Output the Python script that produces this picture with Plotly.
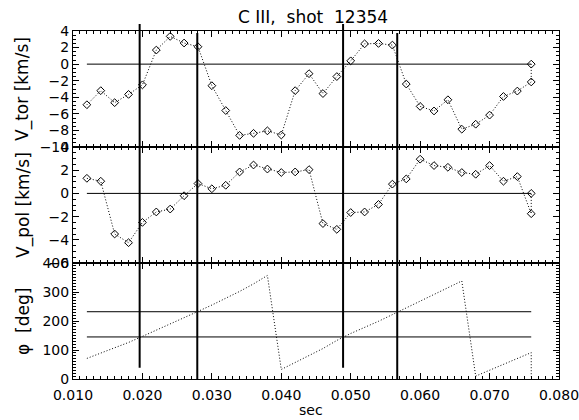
import plotly.graph_objects as go
from plotly.subplots import make_subplots

# time grid (s); the last sample is repeated at 0.076
t = [0.012, 0.014, 0.016, 0.018, 0.020, 0.022, 0.024, 0.026, 0.028, 0.030,
     0.032, 0.034, 0.036, 0.038, 0.040, 0.042, 0.044, 0.046, 0.048, 0.050,
     0.052, 0.054, 0.056, 0.058, 0.060, 0.062, 0.064, 0.066, 0.068, 0.070,
     0.072, 0.074, 0.076, 0.076]

v_tor = [-4.9, -3.2, -4.65, -3.65, -2.5, 1.7, 3.35, 2.55, 2.1, -2.6,
         -5.6, -8.6, -8.35, -8.05, -8.55, -3.2, -1.15, -3.55, -1.5, 0.4,
         2.45, 2.5, 2.3, -2.4, -5.1, -5.65, -4.3, -7.85, -7.25, -6.15,
         -3.9, -3.25, -2.15, 0.0]

v_pol = [1.3, 1.05, -3.5, -4.25, -2.5, -1.6, -1.35, -0.2, 0.85, 0.4,
         0.7, 1.85, 2.45, 2.1, 1.8, 1.85, 2.05, -2.6, -3.1, -1.65,
         -1.6, -0.95, 0.8, 1.25, 2.95, 2.4, 2.25, 1.8, 1.65, 2.4,
         1.05, 1.45, -1.75, 0.0]

phi = [71, 89, 107, 126, 147, 168, 189, 210, 233, 255,
       278, 302, 328, 357, 33, 58, 81, 105, 133, 157,
       177, 199, 222, 245, 268, 291, 314, 338, 10, 30,
       50, 70, 91, 8]

phi_levels = [145, 232]
t_span = [0.012, 0.076]

x_ticks = [0.010, 0.020, 0.030, 0.040, 0.050, 0.060, 0.070, 0.080]
x_labels = ["0.010", "0.020", "0.030", "0.040", "0.050", "0.060", "0.070", "0.080"]

# event times (vertical markers) and their extents in paper units
events = [0.0196, 0.0279, 0.0489, 0.0567]
ev_bottom = [0.032, 0.0, 0.032, 0.0]
ev_top = [1.02, 0.994, 1.02, 0.994]

font = "DejaVu Sans"

fig = make_subplots(rows=3, cols=1, shared_xaxes=True, vertical_spacing=0)

dotted = dict(color="black", width=1, dash="1px,2px")
diam = dict(symbol="diamond-open", size=6, color="black", line=dict(width=1, color="black"))

fig.add_trace(go.Scatter(x=t, y=v_tor, mode="lines+markers", line=dotted, marker=diam), row=1, col=1)
fig.add_trace(go.Scatter(x=t, y=v_pol, mode="lines+markers", line=dotted, marker=diam), row=2, col=1)
fig.add_trace(go.Scatter(x=t, y=phi, mode="lines", line=dotted), row=3, col=1)

# reference lines
solid = dict(color="black", width=1)
fig.add_trace(go.Scatter(x=t_span, y=[0, 0], mode="lines", line=solid), row=1, col=1)
fig.add_trace(go.Scatter(x=t_span, y=[0, 0], mode="lines", line=solid), row=2, col=1)
for lv in phi_levels:
    fig.add_trace(go.Scatter(x=t_span, y=[lv, lv], mode="lines", line=solid), row=3, col=1)

for e, b, tp in zip(events, ev_bottom, ev_top):
    fig.add_shape(type="line", xref="x", yref="paper", x0=e, x1=e, y0=b, y1=tp,
                  line=dict(color="black", width=2))

xax = dict(range=[0.010, 0.080], tickvals=x_ticks, ticktext=x_labels,
           ticks="inside", ticklen=6, tickwidth=1, tickcolor="black",
           showline=True, linecolor="black", linewidth=1, mirror="ticks",
           showgrid=False, zeroline=False, ticklabelstandoff=3,
           ticklabeloverflow="allow", automargin=False,
           minor=dict(ticks="inside", dtick=0.001, tick0=0.0, ticklen=3, tickcolor="black"))
fig.update_xaxes(**xax)
fig.update_xaxes(showticklabels=False, row=1, col=1)
fig.update_xaxes(showticklabels=False, row=2, col=1)
fig.update_xaxes(showticklabels=True, row=3, col=1)

yax = dict(ticks="inside", ticklen=6, tickwidth=1, tickcolor="black",
           showline=True, linecolor="black", linewidth=1, mirror="ticks",
           showgrid=False, zeroline=False, automargin=False)
fig.update_yaxes(**yax)
fig.update_yaxes(range=[-10, 4], dtick=2, tick0=0,
                 minor=dict(ticks="inside", dtick=0.5, ticklen=3, tickcolor="black"), row=1, col=1)
fig.update_yaxes(range=[-6, 4], dtick=2, tick0=0,
                 minor=dict(ticks="inside", dtick=0.5, ticklen=3, tickcolor="black"), row=2, col=1)
fig.update_yaxes(range=[0, 400], dtick=100, tick0=0,
                 minor=dict(ticks="inside", dtick=10, ticklen=3, tickcolor="black"), row=3, col=1)

# axis titles placed like the original
ytitles = ["V_tor [km/s]", "V_pol [km/s]", "φ\u00a0\u00a0[deg]"]
ycent = [5 / 6, 3 / 6, 1 / 6]
for txt, yc in zip(ytitles, ycent):
    fig.add_annotation(text=txt, xref="paper", yref="paper", x=-0.103, y=yc,
                       textangle=-90, showarrow=False, xanchor="center", yanchor="middle",
                       font=dict(family=font, size=17, color="black"))

fig.add_annotation(text="sec", xref="paper", yref="paper", x=0.49, y=-0.089,
                   showarrow=False, xanchor="center", yanchor="middle",
                   font=dict(family=font, size=14, color="black"))
fig.add_annotation(text="C III,\u00a0 shot\u00a0 12354", xref="paper", yref="paper", x=0.494, y=1.04,
                   showarrow=False, xanchor="center", yanchor="middle",
                   font=dict(family=font, size=17, color="black"))

fig.update_layout(width=579, height=420, showlegend=False,
                  margin=dict(l=73, r=20, t=31, b=41),
                  paper_bgcolor="white", plot_bgcolor="white",
                  font=dict(family=font, size=14, color="black"))

# drop the default page margin so the figure fills the window exactly
fig.write_html("out.html", config={"displayModeBar": False}, post_script=(
    "document.body.style.margin='0';"
    "document.body.style.overflow='hidden';"
    "document.querySelectorAll('svg.main-svg').forEach(function(s){s.style.overflow='visible';});"
))
